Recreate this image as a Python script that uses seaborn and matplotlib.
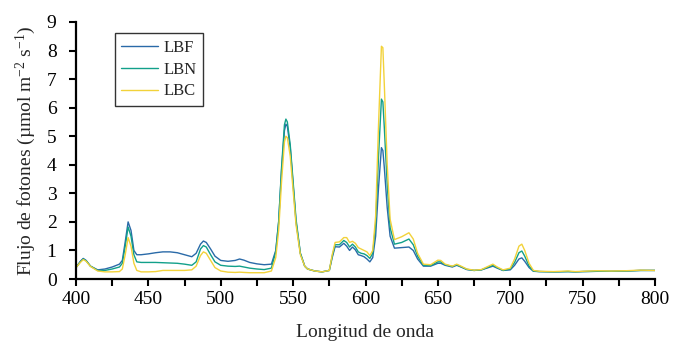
import matplotlib
matplotlib.use("Agg")
import matplotlib.pyplot as plt
import seaborn as sns
import pandas as pd

wavelength = [400, 403, 405, 407, 410, 415, 420, 425, 430, 432, 434, 436, 438, 440, 442, 445, 450, 455, 460, 465,
              470, 475, 480, 483, 486, 488, 490, 493, 496, 500, 505, 510, 513, 516, 520, 525, 530, 535, 538, 540,
              542, 544, 545, 546, 548, 550, 552, 555, 558, 560, 565, 570, 575, 577, 579, 582, 585, 587, 589, 591,
              593, 595, 597, 599, 601, 603, 605, 607, 609, 611, 612, 613, 615, 617, 620, 625, 630, 633, 636, 640,
              645, 650, 652, 655, 660, 663, 666, 670, 675, 680, 685, 688, 691, 695, 700, 703, 706, 708, 710, 713,
              716, 720, 730, 740, 745, 750, 760, 770, 780, 790, 800]

lbf = [0.40, 0.62, 0.72, 0.65, 0.45, 0.32, 0.35, 0.42, 0.52, 0.65, 1.30, 2.00, 1.70, 1.00, 0.85, 0.85, 0.88, 0.92, 0.95, 0.95,
       0.92, 0.85, 0.78, 0.90, 1.22, 1.33, 1.28, 1.05, 0.80, 0.65, 0.62, 0.65, 0.70, 0.66, 0.58, 0.53, 0.50, 0.52, 1.00, 2.00,
       3.80, 5.20, 5.42, 5.35, 4.60, 3.30, 2.00, 0.90, 0.45, 0.35, 0.28, 0.25, 0.30, 0.75, 1.13, 1.12, 1.25, 1.15, 1.00, 1.12,
       1.02, 0.85, 0.82, 0.78, 0.70, 0.60, 0.75, 1.50, 3.20, 4.60, 4.50, 3.90, 2.50, 1.50, 1.08, 1.10, 1.12, 1.00, 0.70, 0.45,
       0.45, 0.55, 0.55, 0.48, 0.42, 0.48, 0.42, 0.33, 0.30, 0.32, 0.40, 0.45, 0.38, 0.30, 0.32, 0.48, 0.70, 0.74, 0.62, 0.40,
       0.27, 0.26, 0.25, 0.26, 0.25, 0.26, 0.27, 0.27, 0.28, 0.30, 0.30]

lbn = [0.40, 0.60, 0.70, 0.64, 0.45, 0.30, 0.30, 0.35, 0.42, 0.55, 1.15, 1.82, 1.50, 0.85, 0.60, 0.58, 0.58, 0.58, 0.57, 0.56,
       0.55, 0.52, 0.48, 0.60, 1.05, 1.17, 1.12, 0.85, 0.60, 0.48, 0.45, 0.44, 0.45, 0.42, 0.38, 0.35, 0.33, 0.38, 0.95, 2.00,
       3.90, 5.40, 5.60, 5.50, 4.70, 3.40, 2.10, 0.90, 0.45, 0.35, 0.28, 0.25, 0.30, 0.80, 1.20, 1.20, 1.35, 1.28, 1.12, 1.22,
       1.12, 0.95, 0.90, 0.88, 0.82, 0.72, 0.90, 1.90, 4.30, 6.30, 6.20, 5.30, 3.30, 1.80, 1.22, 1.28, 1.40, 1.20, 0.80, 0.48,
       0.47, 0.60, 0.60, 0.50, 0.44, 0.50, 0.43, 0.34, 0.30, 0.32, 0.42, 0.48, 0.40, 0.30, 0.35, 0.58, 0.92, 0.98, 0.80, 0.45,
       0.28, 0.26, 0.25, 0.26, 0.25, 0.26, 0.27, 0.27, 0.28, 0.30, 0.30]

lbc = [0.40, 0.58, 0.68, 0.62, 0.44, 0.28, 0.25, 0.25, 0.26, 0.35, 0.85, 1.45, 1.15, 0.55, 0.30, 0.25, 0.25, 0.26, 0.30, 0.30,
       0.30, 0.30, 0.32, 0.45, 0.82, 0.95, 0.90, 0.65, 0.40, 0.28, 0.24, 0.23, 0.24, 0.23, 0.22, 0.22, 0.22, 0.28, 0.75, 1.70,
       3.40, 4.80, 5.00, 4.95, 4.30, 3.10, 1.90, 0.85, 0.45, 0.35, 0.28, 0.25, 0.30, 0.85, 1.28, 1.30, 1.45, 1.45, 1.28, 1.32,
       1.25, 1.10, 1.05, 1.00, 0.95, 0.82, 1.00, 2.20, 5.40, 8.15, 8.10, 6.80, 4.00, 2.10, 1.38, 1.48, 1.62, 1.40, 0.90, 0.52,
       0.50, 0.66, 0.65, 0.52, 0.45, 0.52, 0.45, 0.35, 0.31, 0.33, 0.45, 0.52, 0.42, 0.32, 0.38, 0.70, 1.15, 1.22, 1.00, 0.55,
       0.30, 0.27, 0.26, 0.28, 0.26, 0.27, 0.29, 0.28, 0.29, 0.31, 0.30]

series_names = ["LBF", "LBN", "LBC"]
colors = {"LBF": "#2a6aa8", "LBN": "#12a08a", "LBC": "#f2d23a"}

frames = []
for name, vals in zip(series_names, [lbf, lbn, lbc]):
    frames.append(pd.DataFrame({"wl": wavelength, "val": vals, "serie": name}))
df = pd.concat(frames, ignore_index=True)

sns.set_style("ticks")
plt.rcParams["font.family"] = ["Liberation Serif", "DejaVu Serif"]
plt.rcParams["mathtext.fontset"] = "custom"
plt.rcParams["mathtext.rm"] = "Liberation Serif"
plt.rcParams["mathtext.it"] = "Liberation Serif:italic"

fig = plt.figure(figsize=(7.0, 3.47), dpi=100)
ax = fig.add_axes([76/700, 1-279/347, (655-76)/700, (279-22)/347])

sns.lineplot(data=df, x="wl", y="val", hue="serie", hue_order=series_names,
             palette=colors, linewidth=1.0, ax=ax, sort=False, estimator=None)

ax.set_xlim(400, 800)
ax.set_ylim(0, 9)
ax.set_xticks(range(400, 801, 50))
ax.set_xticks(range(400, 801, 25), minor=True)
ax.set_yticks(range(0, 10))
ax.tick_params(axis="both", which="both", direction="out", length=5, width=1.5, labelsize=14, colors="black")
ax.tick_params(axis="y", pad=9)
for s in ["left", "bottom"]:
    ax.spines[s].set_linewidth(1.6)
    ax.spines[s].set_color("black")
sns.despine(ax=ax)

ax.set_xlabel("Longitud de onda", fontsize=14, labelpad=12)
ax.set_ylabel("Flujo de fotones (µmol m$^{-2}$ s$^{-1}$)", fontsize=14, labelpad=6)

leg = ax.legend(loc="upper left", bbox_to_anchor=(0.067, 0.957), fontsize=12, frameon=True,
                fancybox=False, edgecolor="black", handlelength=2.2, labelspacing=0.35,
                borderpad=0.4, handletextpad=0.3, borderaxespad=0.0)
leg.get_frame().set_linewidth(1.0)
leg.set_title(None)

fig.savefig("out.png", dpi=100, facecolor="white")
